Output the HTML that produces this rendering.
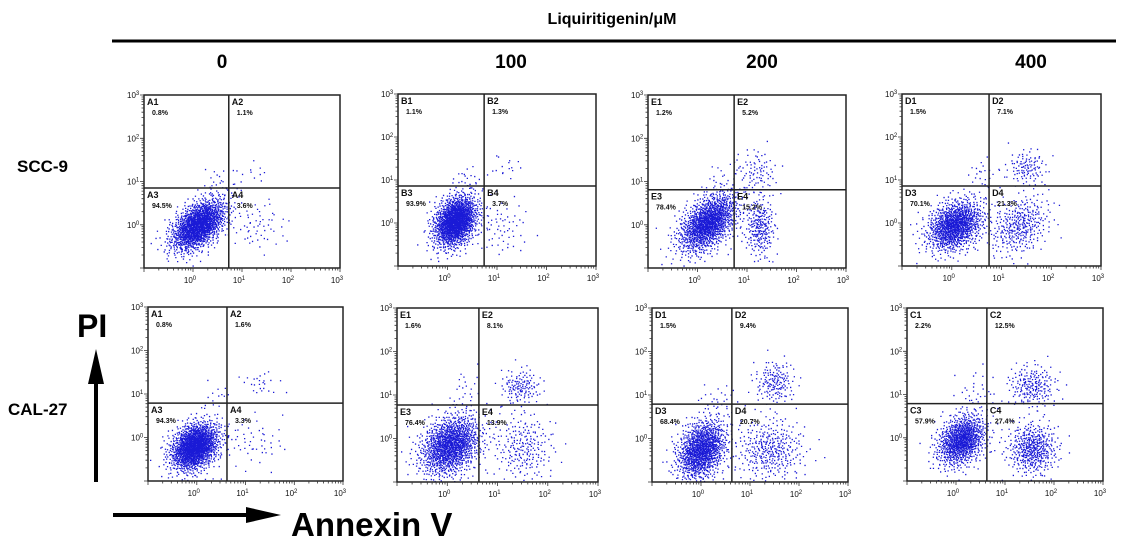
<!DOCTYPE html>
<html><head><meta charset="utf-8"><style>
html,body{margin:0;padding:0;background:#fff;}
svg{display:block;font-family:"Liberation Sans",Arial,sans-serif;}
</style></head><body>
<svg id="fig" width="1129" height="547" viewBox="0 0 1129 547" xmlns="http://www.w3.org/2000/svg">
<text x="612" y="24" font-size="16" font-weight="bold" text-anchor="middle">Liquiritigenin/μM</text>
<line x1="112" y1="41" x2="1116" y2="41" stroke="#000" stroke-width="3"/>
<text x="222" y="68" font-size="19" font-weight="bold" text-anchor="middle">0</text>
<text x="511" y="68" font-size="19" font-weight="bold" text-anchor="middle">100</text>
<text x="762" y="68" font-size="19" font-weight="bold" text-anchor="middle">200</text>
<text x="1031" y="68" font-size="19" font-weight="bold" text-anchor="middle">400</text>
<text x="17" y="172" font-size="17" font-weight="bold">SCC-9</text>
<text x="8" y="415" font-size="17" font-weight="bold">CAL-27</text>
<text x="77" y="337" font-size="32" font-weight="bold">PI</text>
<g>
<line x1="96" y1="482" x2="96" y2="378" stroke="#000" stroke-width="4"/>
<polygon points="96,349 88,384 104,384" fill="#000"/>
</g>
<g>
<line x1="113" y1="515" x2="252" y2="515" stroke="#000" stroke-width="4"/>
<polygon points="281,515 246,507 246,523" fill="#000"/>
</g>
<text x="291" y="536" font-size="33" font-weight="bold">Annexin V</text>
<g id="panels"></g>
</svg>
<script>
// Panel layout: [left, top, right, bottom] in pixels
const panelBoxes = [[144,95,340,268],[398,94,596,266],[648,95,846,268],[902,94,1101,266],
                    [148,307,343,481],[397,308,598,482],[652,308,848,482],[907,308,1103,481]];
// Quadrant gate thresholds (log10 units, axis -1..3)
const gateX = [0.73,0.74,0.74,0.75,0.62,0.63,0.63,0.63];
const gateY = [0.85,0.86,0.81,0.86,0.79,0.77,0.79,0.79];
const quadLetters = ["A","B","E","D","A","E","D","C"];
const q1Pct = ["0.8%","1.1%","1.2%","1.5%","0.8%","1.6%","1.5%","2.2%"];
const q2Pct = ["1.1%","1.3%","5.2%","7.1%","1.6%","8.1%","9.4%","12.5%"];
const q3Pct = ["94.5%","93.9%","78.4%","70.1%","94.3%","76.4%","68.4%","57.9%"];
const q4Pct = ["3.6%","3.7%","15.2%","21.3%","3.3%","13.9%","20.7%","27.4%"];
// Cell populations per panel: [centerX, centerY, spreadX, spreadY, count, correlation] (log10 units)
const populations = [
 [[0.1,0.0,0.28,0.3,1500,0.5],[1.3,0.0,0.3,0.3,60,0],[1.2,1.2,0.2,0.15,12,0],[0.5,1.0,0.15,0.2,20,0]],
 [[0.15,0.05,0.22,0.3,1500,0.3],[1.1,-0.1,0.25,0.35,60,0],[1.2,1.3,0.2,0.15,15,0],[0.4,1.0,0.15,0.2,20,0]],
 [[0.2,0.05,0.3,0.35,1300,0.5],[1.25,-0.05,0.15,0.35,250,0],[1.2,1.25,0.2,0.25,80,0],[0.5,1.0,0.2,0.3,25,0]],
 [[0.05,-0.05,0.28,0.3,1100,0.3],[1.35,-0.05,0.3,0.35,350,0.3],[1.5,1.3,0.2,0.2,110,0],[0.6,1.1,0.15,0.25,25,0]],
 [[-0.05,-0.2,0.25,0.28,1500,0.3],[1.1,-0.1,0.35,0.3,55,0],[1.3,1.25,0.2,0.15,25,0],[0.4,1.0,0.15,0.15,12,0]],
 [[0.05,-0.15,0.3,0.35,1300,0.3],[1.5,-0.2,0.3,0.4,230,0],[1.45,1.2,0.2,0.2,130,0],[0.35,1.1,0.15,0.3,25,0]],
 [[0.0,-0.25,0.25,0.35,1150,0.3],[1.4,-0.25,0.35,0.35,350,0],[1.5,1.3,0.2,0.25,160,0],[0.4,0.9,0.25,0.2,25,0]],
 [[0.1,-0.05,0.25,0.3,950,0.3],[1.55,-0.25,0.25,0.3,450,0],[1.55,1.2,0.25,0.25,210,0],[0.4,1.0,0.2,0.3,35,0]]
];
const decadeLabels = ["0","1","2","3"];

const NS="http://www.w3.org/2000/svg";
const root=document.getElementById('panels');
function mk(tag,attrs,parent){const e=document.createElementNS(NS,tag);for(const k in attrs)e.setAttribute(k,attrs[k]);parent.appendChild(e);return e;}
function halton(i,b){let f=1,r=0;while(i>0){f/=b;r+=f*(i%b);i=Math.floor(i/b);}return r;}
let seq=1;
panelBoxes.forEach((bx,p)=>{
  const [L,T,R,B]=bx;
  const sx=v=>L+(v+1)/4*(R-L);
  const sy=v=>B-(v+1)/4*(B-T);
  const g=mk('g',{},root);
  
  
  // dots
  let d='';
  populations[p].forEach(pop=>{
    const [cx,cy,dx,dy,n,rho]=pop;
    for(let i=0;i<n;i++){
      const u1=halton(seq,2)*0.999+0.0005,u2=halton(seq,3);seq++;
      const r=Math.sqrt(-2*Math.log(u1));
      const z1=r*Math.cos(2*Math.PI*u2),z2=r*Math.sin(2*Math.PI*u2);
      const vx=cx+dx*z1, vy=cy+dy*(rho*z1+Math.sqrt(1-rho*rho)*z2);
      const X=sx(vx),Y=sy(vy);
      if(X<L+1||X>R-1||Y<T+1||Y>B-1)continue;
      d+='M'+X.toFixed(1)+' '+Y.toFixed(1)+'h1.3v1.3h-1.3z';
    }
  });
  const dots=mk('path',{d:d,fill:'#1a1ad6'},g);
  
  
  // frame
  const fr=mk('rect',{x:L,y:T,width:R-L,height:B-T,fill:'none',stroke:'#222','stroke-width':1.5},g);
  
  
  const gv=mk('line',{x1:sx(gateX[p]),y1:T,x2:sx(gateX[p]),y2:B,stroke:'#222','stroke-width':1.5},g);
  
  
  const gh=mk('line',{x1:L,y1:sy(gateY[p]),x2:R,y2:sy(gateY[p]),stroke:'#222','stroke-width':1.5},g);
  
  
  // ticks
  let tk='';
  for(let dec=-1;dec<3;dec++){
    for(let k=1;k<10;k++){
      const v=dec+Math.log10(k);
      const len=k===1?4:2.5;
      const X=sx(v);tk+='M'+X.toFixed(1)+' '+B+'v'+len;
      const Y=sy(v);tk+='M'+L+' '+Y.toFixed(1)+'h-'+len;
    }
  }
  tk+='M'+R+' '+B+'v4M'+L+' '+T+'h-4';
  const ticks=mk('path',{d:tk,stroke:'#333','stroke-width':0.8,fill:'none'},g);
  
  
  decadeLabels.forEach((lab,i)=>{
    const v=+lab;
    const tx=mk('text',{x:sx(v)-3,y:B+15,'font-size':8,'text-anchor':'middle',fill:'#111'},g);
    
    
    tx.textContent='10';
    const s1=mk('tspan',{dy:-3,'font-size':6},tx);s1.textContent=lab;
    const ty=mk('text',{x:L-17,y:sy(v)+3,'font-size':8,fill:'#111'},g);
    
    
    ty.textContent='10';
    const s2=mk('tspan',{dy:-3,'font-size':6},ty);s2.textContent=lab;
  });
  // quadrant labels
  const qx=sx(gateX[p]),qy=sy(gateY[p]);
  const quads=[[L+3,T+10,1,q1Pct[p]],[qx+3,T+10,2,q2Pct[p]],[L+3,qy+10,3,q3Pct[p]],[qx+3,qy+10,4,q4Pct[p]]];
  quads.forEach(q=>{
    const t=mk('text',{x:q[0],y:q[1],'font-size':9,'font-weight':'bold',fill:'#111'},g);
    
    
    t.textContent=quadLetters[p]+q[2];
    const pc=mk('text',{x:q[0]+5,y:q[1]+10,'font-size':7,'font-weight':'bold',fill:'#111'},g);
    
    
    pc.textContent=q[3];
  });
});
</script>
</body></html>
